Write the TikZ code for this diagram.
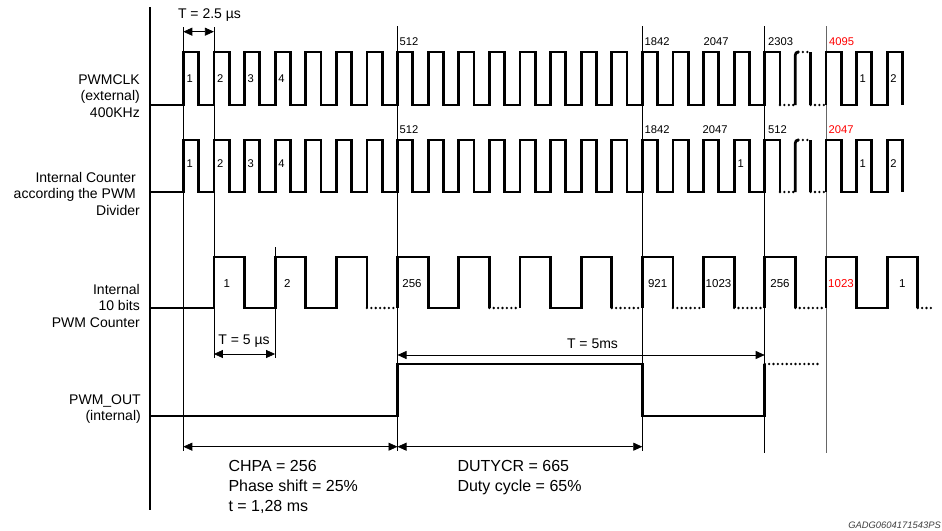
\documentclass[tikz,border=0pt]{standalone}
\usepackage{fontspec}
\setmainfont{Liberation Sans}
\usetikzlibrary{arrows.meta}

\tikzset{
  wave/.style={line width=2.8pt},
  dotw/.style={line width=2.6pt, line cap=round, dash pattern=on 0pt off 4.4pt},
  marker/.style={line width=0.7pt},
  dim/.style={line width=0.7pt, {Triangle[length=9pt,width=8pt]}-{Triangle[length=9pt,width=8pt]}},
  siglbl/.style={font=\fontsize{14}{16.5}\selectfont, align=right, anchor=east, inner sep=0pt},
  numlbl/.style={font=\fontsize{11.2}{13}\selectfont, inner sep=0pt, anchor=base west},
  cntlbl/.style={font=\fontsize{11.5}{13}\selectfont, inner sep=0pt, anchor=base},
  dimlbl/.style={font=\fontsize{14}{16}\selectfont, inner sep=0pt, anchor=base},
  note/.style={font=\fontsize{16}{20}\selectfont, align=left, anchor=north west, inner sep=0pt},
}

\begin{document}
\begin{tikzpicture}[x=1pt,y=-1pt]
  \useasboundingbox (0,0) rectangle (942,530);

  % time axis and markers
  \draw[line width=2.2pt] (150,7) -- (150,510);
  \draw[marker] (183.3,27) -- (183.3,451);
  \draw[marker] (213.9,27) -- (213.9,358);
  \draw[marker] (275.1,247) -- (275.1,358);
  \draw[marker] (397.5,26) -- (397.5,451);
  \draw[marker] (642.3,26) -- (642.3,451);
  \draw[marker] (764.7,26) -- (764.7,453);
  \draw[marker, black!60] (825.9,26) -- (825.9,453);

  % signal names
  \node[siglbl] (clk) at (140,96) {PWMCLK\\(external)\\400KHz};
  \node[siglbl] (div) at (140,193.5) {Internal Counter\kern3.9pt\\according the PWM\kern3.9pt\\Divider};
  \node[siglbl] (cnt) at (140,305.5) {Internal\\10 bits\\PWM Counter};
  \node[siglbl] (out) at (141,409) {PWM\_OUT\\(internal)};

  % PWMCLK
  \draw[wave] (150,105) -- (183.3,105)
    \foreach \k in {0,...,18}{ -- ++(0,-53) -- ++(15.3,0) -- ++(0,53) -- ++(15.3,0) }
    -- ++(0,-53) -- ++(15.3,0) -- ++(0,53);
  \draw[dotw] (780,105) -- (795.3,105);
  \draw[wave, rounded corners=3pt] (795.3,105) -- (795.3,52) -- (798.5,52);
  \draw[dotw] (798.5,52) -- (810.6,52);
  \draw[wave] (810.6,52) -- (810.6,105);
  \draw[dotw] (810.6,105) -- (825.9,105);
  \draw[wave] (825.9,105) -- ++(0,-53) -- ++(15.3,0) -- ++(0,53) -- ++(15.3,0)
    -- ++(0,-53) -- ++(15.3,0) -- ++(0,53) -- ++(15.3,0)
    -- ++(0,-53) -- ++(15.3,0) -- ++(0,53);

  \node[numlbl] (c1) at (186.3,82) {1};
  \node[numlbl] (c2) at (216.9,82) {2};
  \node[numlbl] (c3) at (247.5,82) {3};
  \node[numlbl] (c4) at (278.1,82) {4};
  \node[numlbl] (c5) at (859.5,82) {1};
  \node[numlbl] (c6) at (890.1,82) {2};
  \node[numlbl] (k512) at (399.5,45.5) {512};
  \node[numlbl] (k1842) at (644.5,45.5) {1842};
  \node[numlbl] (k2047) at (703.5,45.5) {2047};
  \node[numlbl] (k2303) at (768,45.5) {2303};
  \node[numlbl, red] (k4095) at (829,45.5) {4095};

  % divided counter
  \draw[wave] (150,192) -- (183.3,192)
    \foreach \k in {0,...,18}{ -- ++(0,-52) -- ++(15.3,0) -- ++(0,52) -- ++(15.3,0) }
    -- ++(0,-52) -- ++(15.3,0) -- ++(0,52);
  \draw[dotw] (780,192) -- (795.3,192);
  \draw[wave, rounded corners=3pt] (795.3,192) -- (795.3,140) -- (798.5,140);
  \draw[dotw] (798.5,140) -- (810.6,140);
  \draw[wave] (810.6,140) -- (810.6,192);
  \draw[dotw] (810.6,192) -- (825.9,192);
  \draw[wave] (825.9,192) -- ++(0,-52) -- ++(15.3,0) -- ++(0,52) -- ++(15.3,0)
    -- ++(0,-52) -- ++(15.3,0) -- ++(0,52) -- ++(15.3,0)
    -- ++(0,-52) -- ++(15.3,0) -- ++(0,52);

  \node[numlbl] (d1) at (186.3,167.3) {1};
  \node[numlbl] (d2) at (216.9,167.3) {2};
  \node[numlbl] (d3) at (247.5,167.3) {3};
  \node[numlbl] (d4) at (278.1,167.3) {4};
  \node[numlbl] (d5) at (737.3,167.3) {1};
  \node[numlbl] (d6) at (859.5,167.3) {1};
  \node[numlbl] (d7) at (890.1,167.3) {2};
  \node[numlbl] (m512) at (399.5,133.5) {512};
  \node[numlbl] (m1842) at (644.5,133.5) {1842};
  \node[numlbl] (m2047) at (702.5,133.5) {2047};
  \node[numlbl] (m512b) at (768,133.5) {512};
  \node[numlbl, red] (m2047b) at (828.5,133.5) {2047};

  % 10 bits counter
  \draw[wave] (150,308) -- (213.9,308)
    \foreach \k in {0,1}{ -- ++(0,-51) -- ++(30.6,0) -- ++(0,51) -- ++(30.6,0) }
    -- ++(0,-51) -- ++(30.6,0) -- ++(0,51);
  \draw[dotw] (366.9,308) -- (397.5,308);
  \draw[wave] (397.5,308) -- ++(0,-51) -- ++(30.6,0) -- ++(0,51) -- ++(30.6,0)
    -- ++(0,-51) -- ++(30.6,0) -- ++(0,51);
  \draw[dotw] (489.3,308) -- (519.9,308);
  \draw[wave] (519.9,308) -- ++(0,-51) -- ++(30.6,0) -- ++(0,51) -- ++(30.6,0)
    -- ++(0,-51) -- ++(30.6,0) -- ++(0,51);
  \draw[dotw] (611.7,308) -- (642.3,308);
  \foreach \x in {642.3,703.5,764.7}{
    \draw[wave] (\x,308) -- ++(0,-51) -- ++(30.6,0) -- ++(0,51);
    \draw[dotw] (\x+30.6,308) -- (\x+61.2,308);
  }
  \draw[wave] (825.9,308) -- ++(0,-51) -- ++(30.6,0) -- ++(0,51) -- ++(30.6,0)
    -- ++(0,-51) -- ++(30.6,0) -- ++(0,51);
  \draw[dotw] (917.7,308) -- (933,308);

  \node[cntlbl] (p1) at (226.7,287) {1};
  \node[cntlbl] (p2) at (287.2,287) {2};
  \node[cntlbl] (p256) at (412,287) {256};
  \node[cntlbl] (p921) at (657.6,287) {921};
  \node[cntlbl] (p1023) at (718.5,287) {1023};
  \node[cntlbl] (p256b) at (780,287) {256};
  \node[cntlbl, red] (p1023b) at (841,287) {1023};
  \node[cntlbl] (p1b) at (902.4,287) {1};

  % PWM output
  \draw[wave] (150,416) -- (397.5,416) -- (397.5,364) -- (642.3,364) -- (642.3,416)
    -- (764.7,416) -- (764.7,364);
  \draw[dotw] (764.7,364) -- (820,364);

  % periods
  \coordinate (tclkA) at (183.3,31.7);
  \coordinate (tclkB) at (213.9,31.7);
  \draw[dim] (tclkA) -- (tclkB);
  \node[dimlbl] (tclk) at (209.5,18.3) {T = 2.5 µs};

  \coordinate (tcntA) at (213.9,354);
  \coordinate (tcntB) at (275.1,354);
  \draw[dim] (tcntA) -- (tcntB);
  \node[dimlbl] (tcnt) at (244,344) {T = 5 µs};

  \coordinate (tpwmA) at (397.5,355);
  \coordinate (tpwmB) at (764.7,355);
  \draw[dim] (tpwmA) -- (tpwmB);
  \node[dimlbl] (tpwm) at (592.5,348.3) {T = 5ms};

  \coordinate (chpaA) at (183.3,446.7);
  \coordinate (chpaB) at (397.5,446.7);
  \coordinate (dutyB) at (642.3,446.7);
  \draw[dim] (chpaA) -- (chpaB);
  \draw[dim] (chpaB) -- (dutyB);
  \node[note] (chpa) at (228.3,460.2) {CHPA = 256\\Phase shift = 25\%\\t = 1,28 ms};
  \node[note] (duty) at (457.3,460.2) {DUTYCR = 665\\Duty cycle = 65\%};

  \node[font=\fontsize{9.4}{11}\selectfont\itshape, text=black!75, inner sep=0pt, anchor=base east]
    (ref) at (941,528.3) {GADG0604171543PS};
\end{tikzpicture}
\end{document}
